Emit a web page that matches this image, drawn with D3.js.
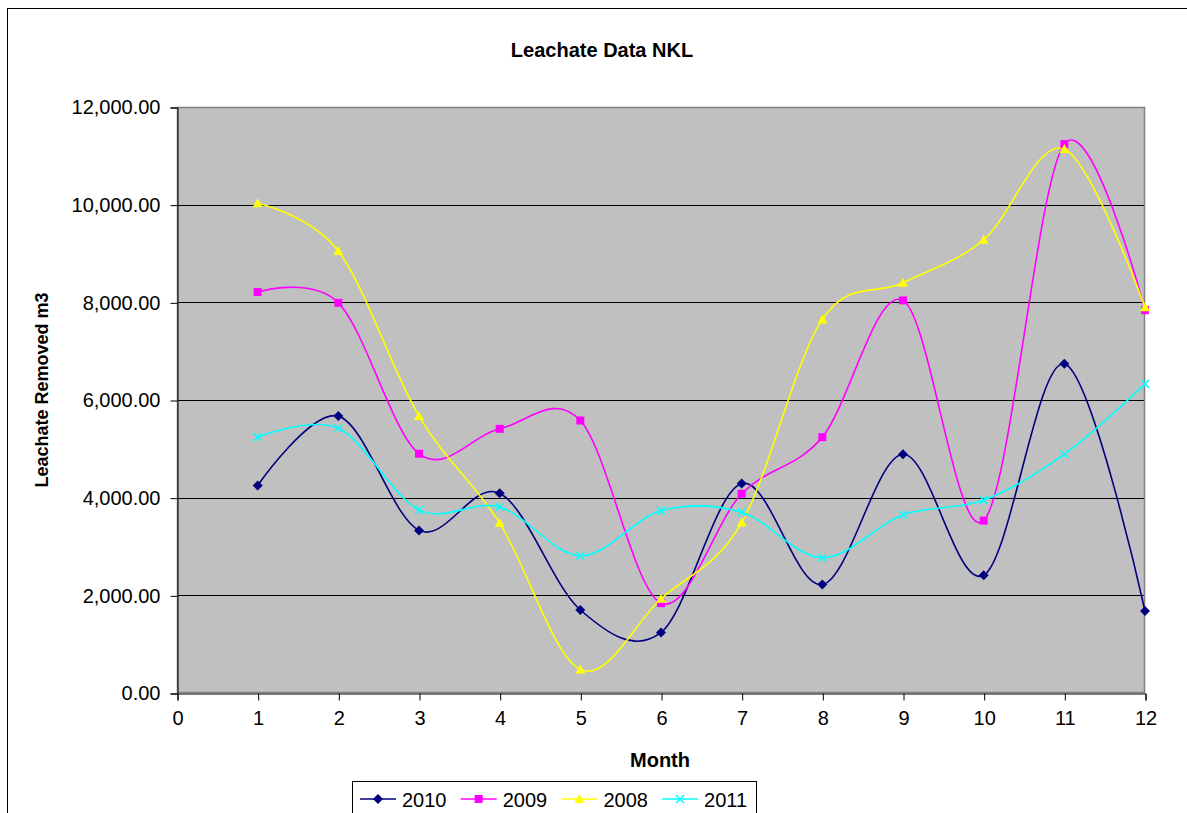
<!DOCTYPE html>
<html>
<head>
<meta charset="utf-8">
<script src="https://cdn.jsdelivr.net/npm/d3@7/dist/d3.min.js"></script>
<style>
  html, body { margin: 0; padding: 0; background: #fff; }
  svg { display: block; font-family: Arial, "Liberation Sans", sans-serif; }
</style>
</head>
<body>
<svg id="chart" width="1187" height="813"></svg>
<script>
// Monthly leachate removed (m3) per year
const months = [1, 2, 3, 4, 5, 6, 7, 8, 9, 10, 11, 12];
const values2010 = [4250, 5670, 3330, 4090, 1700, 1240, 4290, 2220, 4890, 2410, 6740, 1680];
const values2009 = [8210, 7990, 4900, 5410, 5580, 1840, 4080, 5240, 8040, 3530, 11240, 7840];
const values2008 = [10030, 9050, 5670, 3480, 480, 1930, 3490, 7650, 8400, 9280, 11140, 7900];
const values2011 = [5240, 5420, 3750, 3810, 2810, 3730, 3700, 2770, 3650, 3950, 4890, 6330];
const seriesNames = ["2010", "2009", "2008", "2011"];
const xTicks = [0, 1, 2, 3, 4, 5, 6, 7, 8, 9, 10, 11, 12];
const yTicks = [0, 2000, 4000, 6000, 8000, 10000, 12000];

const series = [
  { name: seriesNames[0], values: values2010, color: "#000080", marker: "diamond" },
  { name: seriesNames[1], values: values2009, color: "#FF00FF", marker: "square" },
  { name: seriesNames[2], values: values2008, color: "#FFFF00", marker: "triangle" },
  { name: seriesNames[3], values: values2011, color: "#00FFFF", marker: "cross" }
];

const svg = d3.select("#chart");
const plot = { left: 177, top: 107, right: 1145, bottom: 693 };

const x = d3.scaleLinear().domain([0, 12]).range([plot.left, plot.right]);
const y = d3.scaleLinear().domain([0, 12000]).range([plot.bottom, plot.top]);

// Chart area frame
svg.append("rect")
  .attr("x", 7.5).attr("y", 8.5)
  .attr("width", 1190).attr("height", 830)
  .attr("fill", "#fff").attr("stroke", "#000").attr("stroke-width", 1);

// Title
svg.append("text")
  .attr("x", 602).attr("y", 57)
  .attr("text-anchor", "middle")
  .attr("font-size", 20).attr("font-weight", "bold")
  .text("Leachate Data NKL");

// Plot area background
svg.append("rect")
  .attr("x", plot.left).attr("y", plot.top)
  .attr("width", plot.right - plot.left).attr("height", plot.bottom - plot.top)
  .attr("fill", "#C0C0C0");

// Horizontal gridlines
svg.append("g")
  .selectAll("line")
  .data(yTicks.filter(d => d > 0 && d < 12000))
  .join("line")
  .attr("x1", plot.left).attr("x2", plot.right)
  .attr("y1", d => Math.round(y(d)) + 0.5).attr("y2", d => Math.round(y(d)) + 0.5)
  .attr("stroke", "#000").attr("stroke-width", 1);

// Plot area border
svg.append("rect")
  .attr("x", plot.left + 0.5).attr("y", plot.top + 0.5)
  .attr("width", plot.right - plot.left - 1).attr("height", plot.bottom - plot.top - 1)
  .attr("fill", "none").attr("stroke", "#808080").attr("stroke-width", 1.5);

// Y axis
const fmt = d3.format(",.2f");
const yAxis = d3.axisLeft(y).tickValues(yTicks).tickFormat(fmt).tickSize(7).tickPadding(10);
const gy = svg.append("g").attr("transform", `translate(${plot.left + 0.5},0.5)`).call(yAxis);
gy.select(".domain").attr("stroke", "#000");
gy.selectAll(".tick line").attr("stroke", "#000");
gy.selectAll(".tick text").attr("font-size", 20).attr("fill", "#000")
  .attr("font-family", "Arial, 'Liberation Sans', sans-serif");

// X axis
const xAxis = d3.axisBottom(x).tickValues(xTicks).tickFormat(d3.format("d")).tickSize(7).tickPadding(10);
const gx = svg.append("g").attr("transform", `translate(0.5,${plot.bottom + 0.5})`).call(xAxis);
gx.select(".domain").attr("stroke", "#000");
gx.selectAll(".tick line").attr("stroke", "#000");
gx.selectAll(".tick text").attr("font-size", 20).attr("fill", "#000")
  .attr("font-family", "Arial, 'Liberation Sans', sans-serif");

// Axis titles
svg.append("text")
  .attr("x", 660).attr("y", 767)
  .attr("text-anchor", "middle")
  .attr("font-size", 20).attr("font-weight", "bold")
  .text("Month");

svg.append("text")
  .attr("transform", "translate(48,390) rotate(-90)")
  .attr("text-anchor", "middle")
  .attr("font-size", 18).attr("font-weight", "bold")
  .text("Leachate Removed m3");

// Marker shapes
function markerPath(type) {
  switch (type) {
    case "diamond": return "M0,-5L5,0L0,5L-5,0Z";
    case "square": return "M-4,-4H4V4H-4Z";
    case "triangle": return "M0,-5L5,4H-5Z";
    case "cross": return "M-4,-4L4,4M-4,4L4,-4";
  }
}

function drawMarker(g, s) {
  const p = g.append("path").attr("d", markerPath(s.marker));
  if (s.marker === "cross") {
    p.attr("fill", "none").attr("stroke", s.color).attr("stroke-width", 1.5);
  } else {
    p.attr("fill", s.color).attr("stroke", "none");
  }
  return p;
}

// Smoothed series lines
const line = d3.line()
  .x((d, i) => x(months[i]))
  .y(d => y(d))
  .curve(d3.curveCardinal.tension(0));

const gSeries = svg.append("g");
series.forEach(s => {
  gSeries.append("path")
    .datum(s.values)
    .attr("d", line)
    .attr("fill", "none")
    .attr("stroke", s.color)
    .attr("stroke-width", 1.6);
});
series.forEach(s => {
  s.values.forEach((v, i) => {
    const g = gSeries.append("g").attr("transform", `translate(${x(months[i])},${y(v)})`);
    drawMarker(g, s);
  });
});

// Legend
const legend = svg.append("g");
legend.append("rect")
  .attr("x", 352.5).attr("y", 781.5)
  .attr("width", 404).attr("height", 50)
  .attr("fill", "#fff").attr("stroke", "#000").attr("stroke-width", 1);

series.forEach((s, i) => {
  const lx = 360 + i * 100.7;
  const item = legend.append("g").attr("transform", `translate(${lx},799)`);
  item.append("line").attr("x1", 0).attr("x2", 36).attr("y1", 0).attr("y2", 0)
    .attr("stroke", s.color).attr("stroke-width", 1.6);
  drawMarker(item.append("g").attr("transform", "translate(18,0)"), s);
  item.append("text")
    .attr("x", 42).attr("y", 7.5)
    .attr("font-size", 20).attr("fill", "#000")
    .text(s.name);
});
</script>
</body>
</html>
